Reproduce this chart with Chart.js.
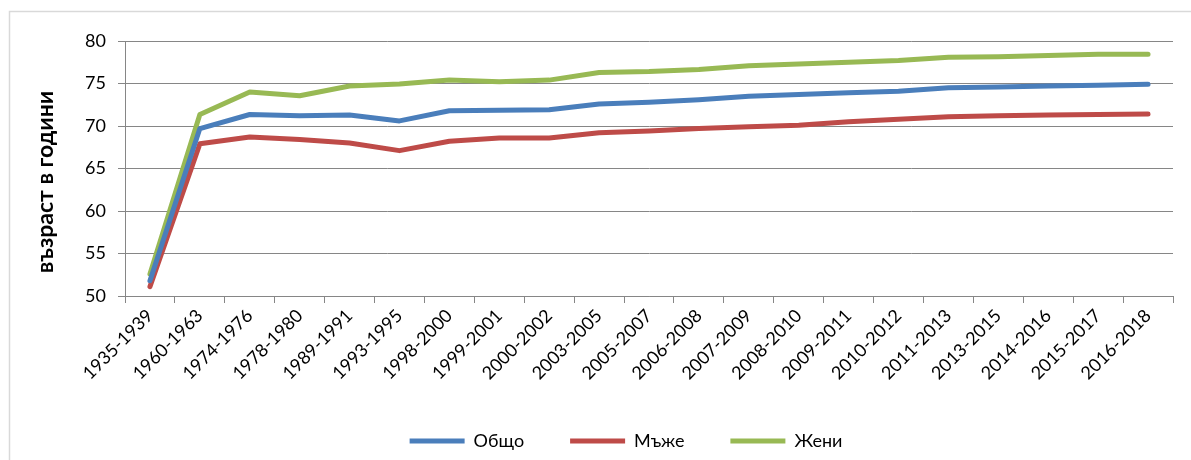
<!DOCTYPE html>
<html>
<head>
<meta charset="utf-8">
<script src="https://cdn.jsdelivr.net/npm/chart.js@4"></script>
<style>
  html, body { margin: 0; padding: 0; background: #ffffff; }
  #wrap { position: relative; width: 1191px; height: 460px; }
</style>
</head>
<body>
<div id="wrap"><canvas id="c" width="1191" height="460"></canvas></div>
<script>
const categories = ["1935-1939","1960-1963","1974-1976","1978-1980","1989-1991","1993-1995","1998-2000","1999-2001","2000-2002","2003-2005","2005-2007","2006-2008","2007-2009","2008-2010","2009-2011","2010-2012","2011-2013","2013-2015","2014-2016","2015-2017","2016-2018"];
const total  = [51.8, 69.7, 71.35, 71.2, 71.3, 70.6, 71.8, 71.85, 71.9, 72.6, 72.8, 73.1, 73.5, 73.7, 73.9, 74.1, 74.5, 74.6, 74.7, 74.8, 74.9];
const male   = [51.1, 67.9, 68.7, 68.4, 68.0, 67.1, 68.2, 68.6, 68.6, 69.2, 69.4, 69.7, 69.9, 70.1, 70.5, 70.8, 71.1, 71.2, 71.3, 71.35, 71.4];
const female = [52.6, 71.35, 74.0, 73.55, 74.7, 74.95, 75.4, 75.2, 75.4, 76.3, 76.4, 76.65, 77.1, 77.3, 77.5, 77.7, 78.1, 78.15, 78.3, 78.45, 78.45];
const seriesNames = ["Общо", "Мъже", "Жени"];
const yTitle = "възраст в години";
const yTicks = { min: 50, max: 80, step: 5 };

const colors = ["#4a7ebb", "#be4b48", "#98b954"];
const FONT = "Lato, 'Open Sans', 'DejaVu Sans', sans-serif";
const GRID = "#868686";

function ds(label, data, color) {
  return {
    label, data,
    borderColor: color, backgroundColor: color,
    borderWidth: 5, borderCapStyle: 'round', borderJoinStyle: 'round',
    pointRadius: 0, pointHoverRadius: 0, tension: 0, fill: false
  };
}

const frame = {
  id: 'frame',
  beforeDraw(chart) {
    const ctx = chart.ctx;
    ctx.save();
    ctx.strokeStyle = '#d9d9d9';
    ctx.lineWidth = 1.5;
    ctx.strokeRect(9.5, 11.5, 1400, 700);
    ctx.restore();
  },
  afterDraw(chart) {
    const ctx = chart.ctx;
    ctx.save();
    ctx.fillStyle = '#000';
    ctx.font = "bold 23px " + FONT;
    ctx.textAlign = 'center';
    ctx.textBaseline = 'middle';
    ctx.translate(46, 182);
    ctx.rotate(-Math.PI / 2);
    ctx.fillText(yTitle, 0, 0);
    ctx.restore();
  }
};

new Chart(document.getElementById('c'), {
  type: 'line',
  data: {
    labels: categories,
    datasets: [
      ds(seriesNames[0], total, colors[0]),
      ds(seriesNames[1], male, colors[1]),
      ds(seriesNames[2], female, colors[2])
    ]
  },
  options: {
    responsive: false,
    animation: false,
    events: [],
    layout: { padding: { left: 79, right: 18, top: 41, bottom: 0 } },
    plugins: {
      tooltip: { enabled: false },
      legend: {
        position: 'bottom',
        labels: {
          usePointStyle: true,
          pointStyle: 'line',
          pointStyleWidth: 55,
          boxHeight: 18,
          padding: 46,
          color: '#000',
          font: { family: FONT, size: 18 }
        }
      }
    },
    scales: {
      x: {
        offset: true,
        grid: { offset: true, drawOnChartArea: false, drawTicks: true, tickLength: 7, color: GRID, lineWidth: 1 },
        border: { display: true, color: GRID, width: 1 },
        ticks: {
          autoSkip: false, minRotation: 45, maxRotation: 45,
          color: '#000', padding: 2,
          font: { family: FONT, size: 18 }
        },
        afterFit(scale) { scale.height = 90; }
      },
      y: {
        min: yTicks.min, max: yTicks.max,
        grid: { color: GRID, lineWidth: 1, drawTicks: true, tickLength: 7 },
        border: { display: true, color: GRID, width: 1 },
        ticks: {
          stepSize: yTicks.step, padding: 12, color: '#000',
          font: { family: FONT, size: 18 }
        },
        afterFit(scale) { scale.width = 46; }
      }
    }
  },
  plugins: [frame]
});
</script>
</body>
</html>
